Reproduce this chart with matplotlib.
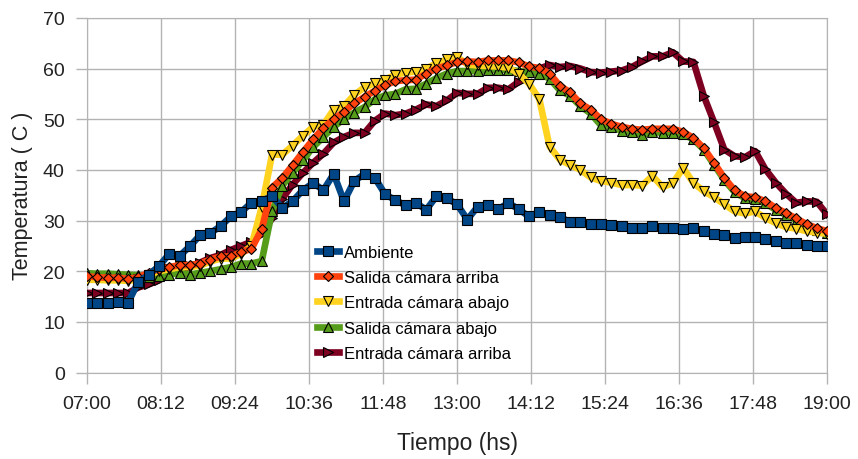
import matplotlib
matplotlib.use("Agg")
import matplotlib.pyplot as plt

# time in minutes after 07:00, one reading every 10 minutes
minutes = list(range(0, 721, 10))

tick_labels = ["07:00", "08:12", "09:24", "10:36", "11:48", "13:00",
               "14:12", "15:24", "16:36", "17:48", "19:00"]

ambiente = [13.7, 13.8, 13.8, 14.0, 13.8, 17.9, 19.3, 21.0, 23.4, 23.0,
            24.9, 27.1, 27.5, 28.9, 30.8, 31.7, 33.5, 33.9, 34.8, 32.5,
            33.8, 36.0, 37.4, 36.0, 39.2, 33.8, 37.8, 39.2, 38.4, 35.2,
            34.0, 33.0, 33.5, 32.1, 34.8, 34.4, 33.2, 30.2, 32.7, 33.0,
            32.2, 33.5, 32.2, 30.8, 31.7, 31.0, 30.7, 29.7, 29.7, 29.3,
            29.3, 29.1, 28.9, 28.5, 28.5, 28.9, 28.5, 28.5, 28.4, 28.5,
            27.9, 27.4, 27.1, 26.6, 26.7, 26.7, 26.4, 26.0, 25.6, 25.6,
            25.1, 25.0, 24.9]

salida_arriba = [19.0, 18.8, 18.7, 18.7, 18.5, 18.8, 19.7, 20.4, 20.8, 21.2,
                 21.2, 21.5, 22.3, 22.9, 22.9, 23.8, 24.4, 28.3, 36.5, 38.4,
                 40.9, 43.5, 46.0, 48.3, 50.0, 51.5, 53.1, 54.4, 55.6, 56.7,
                 57.5, 57.7, 57.8, 59.0, 60.0, 60.6, 61.3, 61.4, 61.3, 61.6,
                 61.6, 61.6, 61.2, 60.4, 60.1, 59.0, 56.6, 55.3, 53.1, 51.9,
                 50.0, 49.1, 48.5, 48.1, 47.9, 48.1, 48.1, 48.1, 47.5, 46.3,
                 44.3, 41.4, 38.4, 36.0, 34.8, 34.6, 33.8, 32.5, 31.5, 30.4,
                 29.3, 28.5, 27.9]

entrada_abajo = [18.3, 18.3, 18.2, 18.2, 18.1, 18.4, 19.3, 20.0, 20.4, 20.8,
                 20.8, 21.1, 21.9, 22.5, 22.5, 23.4, 25.0, 32.7, 43.0, 43.0,
                 44.8, 46.7, 48.5, 48.9, 51.9, 52.6, 54.8, 56.3, 57.1, 57.8,
                 58.8, 59.2, 59.4, 60.0, 61.0, 61.8, 62.3, 60.8, 60.6, 60.5,
                 60.4, 60.2, 59.0, 57.0, 54.0, 44.6, 42.0, 41.0, 40.0, 38.5,
                 37.8, 37.5, 37.0, 37.0, 36.9, 38.8, 36.6, 37.4, 40.4, 37.4,
                 35.8, 34.6, 33.2, 31.8, 31.4, 31.8, 30.5, 29.5, 28.7, 28.4,
                 27.9, 27.6, 27.4]

salida_abajo = [19.6, 19.5, 19.5, 19.4, 19.3, 19.2, 18.9, 19.1, 19.3, 19.7,
                19.3, 19.7, 20.0, 20.4, 20.8, 21.5, 21.5, 22.0, 31.8, 36.9,
                39.4, 41.9, 44.5, 46.5, 48.5, 50.0, 51.3, 52.4, 53.9, 54.7,
                55.0, 55.9, 56.0, 57.0, 58.1, 59.0, 59.5, 59.5, 59.5, 59.7,
                59.7, 59.8, 59.5, 59.3, 59.0, 58.0, 55.7, 54.6, 52.6, 51.1,
                48.8, 48.5, 47.7, 47.5, 46.9, 47.5, 47.3, 47.3, 47.0, 46.0,
                44.0, 41.0, 38.0, 35.6, 34.4, 34.2, 33.4, 32.1, 31.1, 30.0,
                28.9, 28.1, 27.5]

entrada_arriba = [15.7, 15.7, 15.7, 15.7, 15.7, 16.8, 17.4, 18.2, 19.6, 20.4,
                  21.0, 21.7, 22.6, 23.2, 24.2, 25.0, 25.8, 27.4, 30.4, 34.3,
                  37.1, 39.4, 41.4, 43.2, 45.4, 46.5, 47.3, 47.3, 49.7, 51.1,
                  50.8, 51.1, 51.9, 52.9, 52.6, 53.7, 55.2, 55.0, 55.0, 56.2,
                  56.2, 55.9, 57.4, 59.0, 60.0, 60.7, 60.3, 60.5, 60.0, 59.3,
                  59.2, 59.4, 59.6, 60.3, 61.4, 62.4, 62.4, 63.2, 61.4, 61.3,
                  54.6, 49.4, 44.0, 42.7, 42.5, 43.7, 40.1, 37.5, 35.3, 33.5,
                  33.8, 33.7, 31.2]

series = [
    ("Ambiente", ambiente, "#004586", "s", 6.5),
    ("Salida cámara arriba", salida_arriba, "#ff420e", "D", 5.0),
    ("Entrada cámara abajo", entrada_abajo, "#ffd320", "v", 7.0),
    ("Salida cámara abajo", salida_abajo, "#579d1c", "^", 7.0),
    ("Entrada cámara arriba", entrada_arriba, "#7e0021", ">", 7.0),
]

plt.rcParams["font.family"] = ["Liberation Sans", "DejaVu Sans"]

fig = plt.figure(figsize=(8.58, 4.6), dpi=100)
ax = fig.add_axes([0.1014, 0.188, 0.8626, 0.771])

grid_c = "#b3b3b3"
for i, (name, vals, color, mk, ms) in enumerate(series):
    ax.plot(minutes, vals, color=color, lw=4.8, marker=mk, ms=ms,
            mfc=color, mec="black", mew=0.8, label=name, zorder=10 - i)

ax.set_xlim(0, 720)
ax.set_ylim(0, 70)
ax.set_xticks(range(0, 721, 72))
ax.set_xticklabels(tick_labels)
ax.set_yticks(range(0, 71, 10))
ax.grid(True, color=grid_c, lw=1.0, zorder=0)
ax.set_axisbelow(True)
for sp in ax.spines.values():
    sp.set_color(grid_c)
ax.tick_params(colors=grid_c, labelcolor="#222222", labelsize=14, length=8,
               width=1.0, pad=8)

ax.set_xlabel("Tiempo (hs)", fontsize=16.5, labelpad=14, color="#222222")
ax.set_ylabel("Temperatura ( C )", fontsize=15.5, labelpad=7, color="#222222")

ax.legend(loc="lower left", bbox_to_anchor=(0.295, 0.0), frameon=False,
          fontsize=12, handlelength=1.3, handletextpad=0.3, labelspacing=0.62,
          borderaxespad=0.3)

fig.savefig("out.png", dpi=100)
